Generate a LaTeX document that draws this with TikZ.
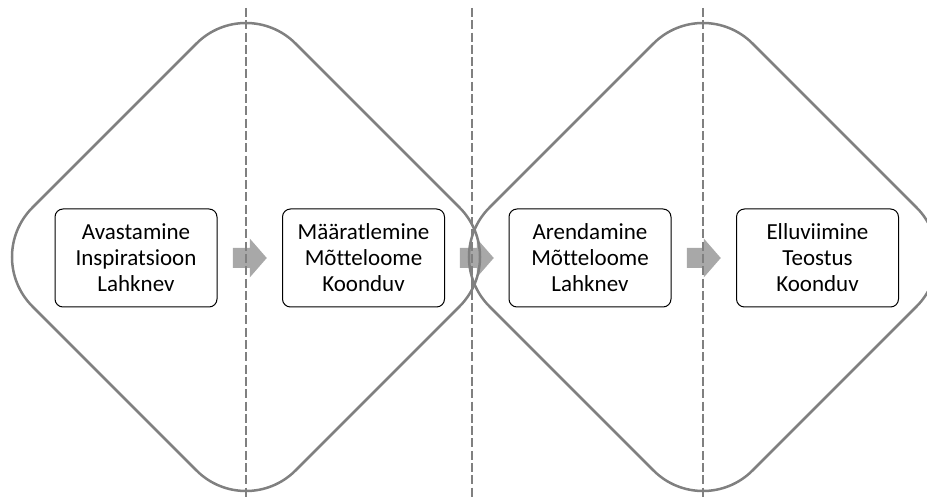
\documentclass[tikz,border=0pt]{standalone}
\usepackage{fontspec}
\setmainfont{Carlito}[Ligatures=NoCommon]
\usetikzlibrary{calc,backgrounds}
\definecolor{outline}{HTML}{808080}
\definecolor{arrowfill}{HTML}{A8A8A8}
\tikzset{
  stage/.style={draw=black, line width=1pt, rounded corners=8pt, fill=white,
    minimum width=162pt, minimum height=98pt, inner sep=0pt, align=center,
    font=\fontsize{23}{26}\selectfont},
  lobeline/.style={draw=outline, line width=2.5pt, rounded corners=70pt},
  divider/.style={draw=outline, line width=2.2pt, dash pattern=on 9pt off 3.3pt},
  pics/lobe/.style={code={
    \draw[lobeline] (-131.5,-131.5) -- (0,-263) -- (263,0) -- (0,263)
      -- (-263,0) -- cycle;}},
  pics/flowarrow/.style={code={
    \fill[arrowfill] (-17,-10) -- (0,-10) -- (0,-19.5) -- (17,0)
      -- (0,19.5) -- (0,10) -- (-17,10) -- cycle;}}
}
\begin{document}
\begin{tikzpicture}[x=1pt,y=-1pt]
\useasboundingbox (0,0) rectangle (927,502);
\clip (0,0) rectangle (927,502);

% the four stages
\node[stage] (b1) at (136,258)   {Avastamine\\Inspiratsioon\\Lahknev};
\node[stage] (b2) at (363.5,258) {Määratlemine\\Mõtteloome\\Koonduv};
\node[stage] (b3) at (590,258)   {Arendamine\\Mõtteloome\\Lahknev};
\node[stage] (b4) at (817.5,258) {Elluviimine\\Teostus\\Koonduv};

% block arrows between consecutive stages, kept behind everything
\coordinate (a1) at ($(b1.east)!0.5!(b2.west)$);
\coordinate (a2) at ($(b2.east)!0.5!(b3.west)$);
\coordinate (a3) at ($(b3.east)!0.5!(b4.west)$);
\begin{scope}[on background layer]
  \pic at (a1) {flowarrow};
  \pic at (a2) {flowarrow};
  \pic at (a3) {flowarrow};
\end{scope}

% the two rounded diamonds
\coordinate (d1) at (246,257);
\coordinate (d2) at (703,257);
\pic at (d1) {lobe};
\pic at (d2) {lobe};

% dashed dividers
\coordinate (t1) at (246,8);  \coordinate (u1) at (246,499);
\coordinate (t2) at (472,8);  \coordinate (u2) at (472,499);
\coordinate (t3) at (703,8);  \coordinate (u3) at (703,499);
\draw[divider] (t1) -- (u1);
\draw[divider] (t2) -- (u2);
\draw[divider] (t3) -- (u3);
\end{tikzpicture}
\end{document}
